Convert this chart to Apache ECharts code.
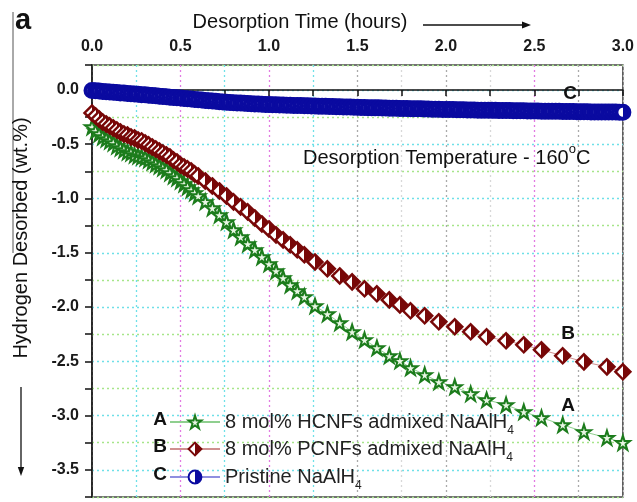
<!DOCTYPE html>
<html>
<head>
<meta charset="utf-8">
<script src="https://cdn.jsdelivr.net/npm/echarts@6/dist/echarts.min.js"></script>
<style>
  html, body { margin: 0; padding: 0; background: #fff; }
  #chart { width: 637px; height: 502px; }
</style>
</head>
<body>
<div id="chart"></div>
<script>
// Hydrogen desorption at 160 °C: three samples, desorbed wt.% vs time (hours)

const seriesNames = [
  '8 mol% HCNFs admixed NaAlH4',
  '8 mol% PCNFs admixed NaAlH4',
  'Pristine NaAlH4'
];
const seriesLetters = ['A', 'B', 'C'];

const xTickLabels = ['0.0', '0.5', '1.0', '1.5', '2.0', '2.5', '3.0'];
const yTickLabels = ['0.0', '-0.5', '-1.0', '-1.5', '-2.0', '-2.5', '-3.0', '-3.5'];

// Sampling times (h) shared by the two admixed samples
const admixedTime = [
  0.00, 0.02, 0.04, 0.06, 0.08, 0.10, 0.12, 0.14, 0.16, 0.18,
  0.20, 0.22, 0.24, 0.26, 0.28, 0.30, 0.32, 0.34, 0.36, 0.38,
  0.40, 0.42, 0.44, 0.46, 0.48, 0.50, 0.52, 0.54, 0.56, 0.58,
  0.60,
  0.64, 0.68, 0.72, 0.76, 0.80, 0.84, 0.88, 0.92, 0.96, 1.00,
  1.04, 1.08, 1.12, 1.16, 1.20,
  1.26, 1.33, 1.40, 1.47, 1.54, 1.61, 1.68,
  1.74, 1.80, 1.88, 1.96, 2.05, 2.14, 2.23, 2.34, 2.44, 2.54,
  2.66, 2.78, 2.91, 3.00
];

// A: 8 mol% HCNFs admixed NaAlH4
const hcnfValues = [
  -0.341, -0.378, -0.405, -0.433, -0.451, -0.470, -0.488, -0.516, -0.534, -0.552,
  -0.571, -0.580, -0.599, -0.608, -0.617, -0.626, -0.645, -0.663, -0.681, -0.700,
  -0.718, -0.737, -0.764, -0.792, -0.810, -0.838, -0.866, -0.893, -0.921, -0.948,
  -0.976,
  -1.030, -1.087, -1.151, -1.215, -1.289, -1.354, -1.418, -1.473, -1.538, -1.602,
  -1.667, -1.731, -1.796, -1.851, -1.906,
  -1.989, -2.063, -2.145, -2.228, -2.302, -2.376, -2.449,
  -2.495, -2.560, -2.624, -2.689, -2.735, -2.799, -2.855, -2.901, -2.965, -3.020,
  -3.085, -3.149, -3.204, -3.250
];

// B: 8 mol% PCNFs admixed NaAlH4
const pcnfValues = [
  -0.212, -0.239, -0.267, -0.295, -0.313, -0.331, -0.350, -0.368, -0.387, -0.405,
  -0.414, -0.433, -0.442, -0.460, -0.470, -0.488, -0.506, -0.525, -0.543, -0.562,
  -0.580, -0.599, -0.617, -0.645, -0.663, -0.691, -0.709, -0.727, -0.746, -0.773,
  -0.792,
  -0.838, -0.884, -0.930, -0.976, -1.031, -1.077, -1.123, -1.179, -1.234, -1.280,
  -1.335, -1.381, -1.427, -1.473, -1.519,
  -1.584, -1.648, -1.713, -1.768, -1.832, -1.878, -1.934,
  -1.980, -2.035, -2.081, -2.136, -2.182, -2.228, -2.274, -2.311, -2.348, -2.394,
  -2.449, -2.505, -2.551, -2.597
];

// C: pristine NaAlH4, logged more densely
const pristineTime = [
  0.00, 0.02, 0.04, 0.06, 0.08, 0.10, 0.12, 0.14, 0.16, 0.18,
  0.20, 0.22, 0.24, 0.26, 0.28, 0.30, 0.32, 0.34, 0.36, 0.38,
  0.40, 0.42, 0.44, 0.46, 0.48, 0.50, 0.52, 0.54, 0.56, 0.58,
  0.60, 0.62, 0.64, 0.66, 0.68, 0.70, 0.72, 0.74, 0.76, 0.78,
  0.80, 0.82, 0.84, 0.86, 0.88, 0.90, 0.92, 0.94, 0.96, 0.98,
  1.00, 1.02, 1.04, 1.06, 1.08, 1.10, 1.12, 1.14, 1.16, 1.18,
  1.20, 1.22, 1.24, 1.26, 1.28, 1.30, 1.32, 1.34, 1.36, 1.38,
  1.40, 1.42, 1.44, 1.46, 1.48, 1.50, 1.52, 1.54, 1.56, 1.58,
  1.60, 1.62, 1.64, 1.66, 1.68, 1.70, 1.72, 1.74, 1.76, 1.78,
  1.80, 1.82, 1.84, 1.86, 1.88, 1.90, 1.92, 1.94, 1.96, 1.98,
  2.00, 2.02, 2.04, 2.06, 2.08, 2.10, 2.12, 2.14, 2.16, 2.18,
  2.20, 2.22, 2.24, 2.26, 2.28, 2.30, 2.32, 2.34, 2.36, 2.38,
  2.40, 2.42, 2.44, 2.46, 2.48, 2.50, 2.52, 2.54, 2.56, 2.58,
  2.60, 2.62, 2.64, 2.66, 2.68, 2.70, 2.72, 2.74, 2.76, 2.78,
  2.80, 2.82, 2.84, 2.86, 2.88, 2.90, 2.92, 2.94, 2.96, 2.98,
  3.00
];
const pristineValues = [
  -0.005, -0.008, -0.010, -0.013, -0.016, -0.019, -0.021, -0.024, -0.027, -0.029,
  -0.032, -0.034, -0.037, -0.040, -0.043, -0.045, -0.048, -0.051, -0.054, -0.057,
  -0.060, -0.063, -0.066, -0.069, -0.072, -0.075, -0.078, -0.081, -0.084, -0.087,
  -0.090, -0.093, -0.096, -0.099, -0.102, -0.105, -0.108, -0.110, -0.113, -0.115,
  -0.117, -0.119, -0.121, -0.123, -0.125, -0.127, -0.129, -0.130, -0.132, -0.133,
  -0.135, -0.136, -0.137, -0.138, -0.139, -0.140, -0.141, -0.142, -0.143, -0.144,
  -0.145, -0.146, -0.147, -0.148, -0.149, -0.150, -0.151, -0.152, -0.153, -0.154,
  -0.155, -0.156, -0.157, -0.158, -0.159, -0.160, -0.161, -0.162, -0.163, -0.164,
  -0.165, -0.165, -0.166, -0.167, -0.168, -0.168, -0.169, -0.170, -0.170, -0.171,
  -0.172, -0.173, -0.174, -0.174, -0.175, -0.176, -0.177, -0.177, -0.178, -0.179,
  -0.180, -0.180, -0.181, -0.182, -0.182, -0.183, -0.184, -0.184, -0.185, -0.186,
  -0.186, -0.187, -0.187, -0.188, -0.188, -0.189, -0.189, -0.190, -0.190, -0.191,
  -0.191, -0.192, -0.192, -0.193, -0.193, -0.194, -0.194, -0.195, -0.195, -0.196,
  -0.196, -0.197, -0.197, -0.198, -0.198, -0.199, -0.199, -0.200, -0.200, -0.201,
  -0.201, -0.202, -0.202, -0.202, -0.203, -0.203, -0.204, -0.204, -0.204, -0.205,
  -0.205
];

const FONT = '"Liberation Sans", Arial, Helvetica, sans-serif';
const GREEN = '#1c7c1c';
const RED = '#780808';
const BLUE = '#0a0aa0';
const CYAN = '#6fe0e8';
const MAGENTA = '#e27be2';

const STAR = 'path://M10,0 L12.4,7.2 L20,7.3 L13.9,11.8 L16.2,19 L10,14.6 L3.8,19 L6.1,11.8 L0,7.3 L7.6,7.2 Z';

// Marker fill: left half white, right half coloured
function halfFill(c) {
  return {
    type: 'linear', x: 0, y: 0, x2: 1, y2: 0,
    colorStops: [
      { offset: 0, color: '#ffffff' },
      { offset: 0.5, color: '#ffffff' },
      { offset: 0.5, color: c },
      { offset: 1, color: c }
    ]
  };
}

function zip(xs, ys) { return xs.map((x, i) => [x, ys[i]]); }

function tickText(v, labels) {
  if (Math.abs(v * 2 - Math.round(v * 2)) > 1e-6) return '';
  const s = Math.abs(v) < 1e-9 ? '0.0' : v.toFixed(1);
  return labels.indexOf(s) >= 0 ? s : '';
}

function tag(text, x, y) {
  return {
    type: 'text', x: x, y: y, z: 100,
    style: { text: text, font: 'bold 19px ' + FONT, fill: '#111', textAlign: 'center', textVerticalAlign: 'middle' }
  };
}

const legendCenters = [420, 447, 475];
const legendTextStyle = {
  fontFamily: FONT, fontSize: 20, color: '#222',
  rich: {
    sub: { fontFamily: FONT, fontSize: 12, color: '#222', verticalAlign: 'bottom', lineHeight: 30 }
  }
};

const chart = echarts.init(document.getElementById('chart'), null, { renderer: 'canvas' });

chart.setOption({
  animation: false,
  backgroundColor: '#ffffff',
  grid: {
    left: 92, right: 13, top: 65, bottom: 5,
    show: true, borderColor: '#444', borderWidth: 1.5, backgroundColor: 'transparent'
  },
  xAxis: {
    type: 'value', position: 'top',
    min: 0, max: 3, interval: 0.25,
    axisLine: { show: true, lineStyle: { color: '#111', width: 1.5 } },
    axisTick: { show: true, inside: true, length: 6, lineStyle: { color: '#111', width: 1.5 } },
    axisLabel: {
      margin: 10, fontFamily: FONT, fontSize: 16, fontWeight: 'bold', color: '#1a1a1a',
      formatter: v => tickText(v, xTickLabels)
    },
    splitLine: {
      show: true,
      lineStyle: {
        type: [2, 3], width: 1.3,
        color: ['#cccccc', CYAN, MAGENTA, CYAN, MAGENTA, CYAN, '#aaaaaa', '#d8d8d8',
                '#aaaaaa', '#d8d8d8', MAGENTA, '#aaaaaa', '#cccccc']
      }
    }
  },
  yAxis: {
    type: 'value',
    min: -3.75, max: 0.23, interval: 0.25,
    axisLine: { show: true, lineStyle: { color: '#111', width: 1.5 } },
    axisTick: { show: true, inside: false, length: 7, lineStyle: { color: '#111', width: 1.5 } },
    axisLabel: {
      margin: 13, fontFamily: FONT, fontSize: 16, fontWeight: 'bold', color: '#1a1a1a',
      formatter: v => tickText(v, yTickLabels)
    },
    splitLine: {
      show: true,
      lineStyle: { type: [2, 3], width: 1.3, color: ['#a6e58a', CYAN] }
    }
  },
  legend: seriesNames.map((n, i) => ({
    data: [n],
    left: 169, top: legendCenters[i] - 8,
    orient: 'horizontal', padding: 0, itemGap: 0,
    itemWidth: 50, itemHeight: 16,
    selectedMode: false,
    formatter: name => name.replace(/4$/, '{sub|4}'),
    textStyle: legendTextStyle
  })),
  series: [
    {
      name: seriesNames[2], type: 'line',
      data: zip(pristineTime, pristineValues),
      symbol: 'circle', symbolSize: 13, showAllSymbol: true,
      itemStyle: { color: halfFill(BLUE), borderColor: BLUE, borderWidth: 4 },
      lineStyle: { color: '#8f8fe0', width: 1 },
      emphasis: { disabled: true },
      z: 2
    },
    {
      name: seriesNames[0], type: 'line',
      data: zip(admixedTime, hcnfValues),
      symbol: STAR, symbolSize: 14, showAllSymbol: true,
      itemStyle: { color: '#e9f6e4', borderColor: GREEN, borderWidth: 2.1 },
      lineStyle: { color: '#8fcf8f', width: 1 },
      emphasis: { disabled: true },
      z: 3
    },
    {
      name: seriesNames[1], type: 'line',
      data: zip(admixedTime, pcnfValues),
      symbol: 'diamond', symbolSize: 15, showAllSymbol: true,
      itemStyle: { color: halfFill(RED), borderColor: RED, borderWidth: 2.5 },
      lineStyle: { color: '#cf9090', width: 1 },
      emphasis: { disabled: true },
      z: 4
    }
  ],
  graphic: [
    // panel letter and the thin rule beside it
    { type: 'line', shape: { x1: 13, y1: 12, x2: 13, y2: 253 }, style: { stroke: '#555', lineWidth: 1 } },
    { type: 'text', x: 15, y: 21, style: { text: 'a', font: 'bold 29px ' + FONT, fill: '#111', textAlign: 'left', textVerticalAlign: 'middle' } },
    // top axis title with arrow
    { type: 'text', x: 300, y: 22, style: { text: 'Desorption Time (hours)', font: '20px ' + FONT, fill: '#111', textAlign: 'center', textVerticalAlign: 'middle' } },
    { type: 'line', shape: { x1: 423, y1: 25, x2: 524, y2: 25 }, style: { stroke: '#111', lineWidth: 1.3 } },
    { type: 'polygon', shape: { points: [[531, 25], [522, 21.5], [522, 28.5]] }, style: { fill: '#111' } },
    // left axis title with arrow
    { type: 'text', x: 21, y: 238, rotation: Math.PI / 2, style: { text: 'Hydrogen Desorbed (wt.%)', font: '20px ' + FONT, fill: '#111', textAlign: 'center', textVerticalAlign: 'middle' } },
    { type: 'line', shape: { x1: 21, y1: 387, x2: 21, y2: 468 }, style: { stroke: '#111', lineWidth: 1.3 } },
    { type: 'polygon', shape: { points: [[21, 476], [17.8, 467], [24.2, 467]] }, style: { fill: '#111' } },
    // condition note
    {
      type: 'text', x: 303, y: 158, z: 100,
      style: {
        text: '{t|Desorption Temperature - 160}{s|o}{t|C}',
        fill: '#111', textAlign: 'left', textVerticalAlign: 'middle',
        rich: {
          t: { fontFamily: FONT, fontSize: 20, color: '#111', lineHeight: 30, verticalAlign: 'middle' },
          s: { fontFamily: FONT, fontSize: 13, color: '#111', lineHeight: 30, verticalAlign: 'top' }
        }
      }
    },
    // curve tags
    tag(seriesLetters[2], 570, 94),
    tag(seriesLetters[1], 568, 334),
    tag(seriesLetters[0], 568, 406),
    // legend letters
    tag(seriesLetters[0], 160, legendCenters[0]),
    tag(seriesLetters[1], 160, legendCenters[1]),
    tag(seriesLetters[2], 160, legendCenters[2])
  ]
});
</script>
</body>
</html>
